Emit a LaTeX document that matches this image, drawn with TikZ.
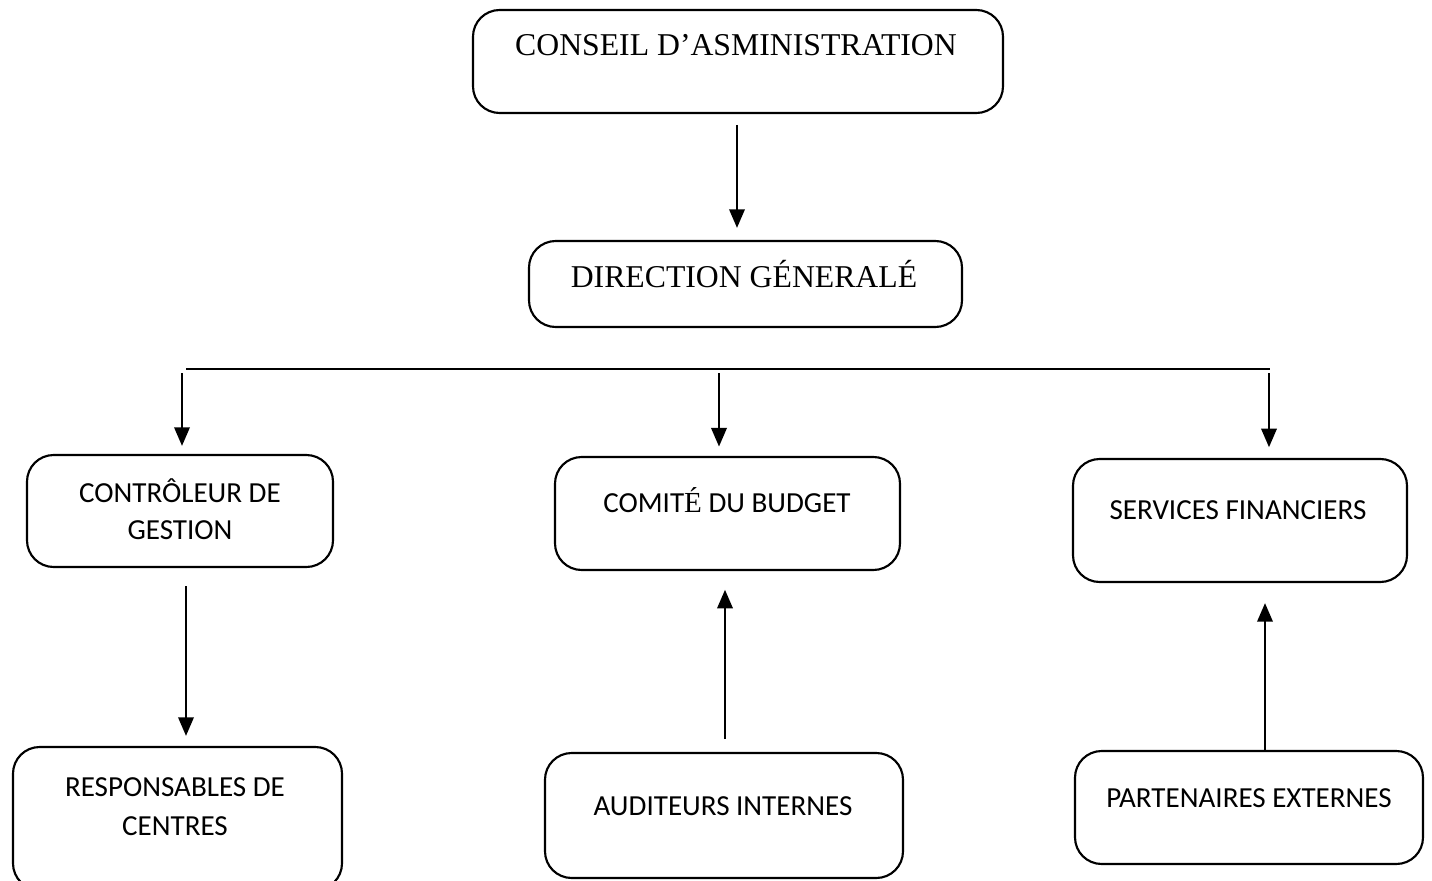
\documentclass[tikz,border=0pt]{standalone}
\usepackage{fontspec}
\setmainfont{Carlito}
\newfontfamily\tnr{Liberation Serif}
\usetikzlibrary{arrows.meta,fit}

\begin{document}
\begin{tikzpicture}[x=0.75pt,y=-0.75pt,
  box/.style={draw,line width=1.6pt,rounded corners=20pt,inner sep=0pt},
  serif/.style={font=\tnr\fontsize{23.8}{28}\selectfont,anchor=base,inner sep=0pt},
  sans/.style={font=\fontsize{21.8}{26}\selectfont,anchor=base,inner sep=0pt},
  arr/.style={line width=1.9pt,-{Triangle[width=11.5pt,length=14pt]}},
  bus/.style={line width=0.8pt}]
\useasboundingbox (0,0) rectangle (1432,881);
\clip (0,0) rectangle (1432,881);

% boxes
\node[box,fit={(473,10) (1003,113)}] (conseil) {};
\node[box,fit={(529,241) (962,327)}] (direction) {};
\node[box,fit={(27,455) (333,567)}] (controleur) {};
\node[box,fit={(555,457) (900,570)}] (comite) {};
\node[box,fit={(1073,459) (1407,582)}] (services) {};
\node[box,fit={(13,747) (342,890)}] (responsables) {};
\node[box,fit={(545,753) (903,878)}] (auditeurs) {};
\node[box,fit={(1075,751) (1423,864)}] (partenaires) {};

% labels
\node[serif] (conseil-t) at (736,56) {CONSEIL D’ASMINISTRATION};
\node[serif] (direction-t) at (744,287) {DIRECTION GÉNERALÉ};
\node[sans] (controleur-t1) at (180,502) {CONTRÔLEUR DE};
\node[sans] (controleur-t2) at (180,539) {GESTION};
\node[sans] (comite-t) at (727,512) {COMIT{\tnr É} DU BUDGET};
\node[sans] (services-t) at (1238,519) {SERVICES FINANCIERS};
\node[sans] (responsables-t1) at (175,796) {RESPONSABLES DE};
\node[sans] (responsables-t2) at (175,835) {CENTRES};
\node[sans] (auditeurs-t) at (723,815) {AUDITEURS INTERNES};
\node[sans] (partenaires-t) at (1249,807) {PARTENAIRES EXTERNES};

% connector points
\coordinate (top1) at (737,125);
\coordinate (busL) at (186,369);
\coordinate (busR) at (1270,369);
\coordinate (d1) at (182,373);
\coordinate (d2) at (719,373);
\coordinate (d3) at (1269,373);
\coordinate (l1) at (186,586);
\coordinate (m1) at (725,739);
\coordinate (r1) at (1265,751);

% connectors
\draw[arr,shorten >=9pt] (top1) -- (top1 |- direction.north);
\draw[bus] (busL) -- (busR);
\draw[arr,shorten >=6pt] (d1) -- (d1 |- controleur.north);
\draw[arr,shorten >=7pt] (d2) -- (d2 |- comite.north);
\draw[arr,shorten >=8pt] (d3) -- (d3 |- services.north);
\draw[arr,shorten >=7.5pt] (l1) -- (l1 |- responsables.north);
\draw[arr,shorten >=14pt] (m1) -- (m1 |- comite.south);
\draw[arr,shorten >=15pt] (r1) -- (r1 |- services.south);
\end{tikzpicture}
\end{document}
